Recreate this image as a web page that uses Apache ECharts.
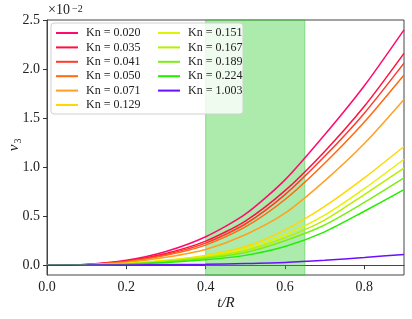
<!DOCTYPE html>
<html><head><meta charset="utf-8">
<script src="https://cdn.jsdelivr.net/npm/echarts@6/dist/echarts.min.js"></script>
<style>html,body{margin:0;padding:0;background:#fff}#c{width:412px;height:319px}</style>
</head><body><div id="c"></div>
<script>
// t/R sample positions
const tR = [0, 0.1, 0.2, 0.3, 0.4, 0.5, 0.6, 0.7, 0.8, 0.9];
// v3 values (in units of 1e-2)
const kn020 = [0, 0.008, 0.050, 0.14, 0.29, 0.52, 0.87, 1.33, 1.83, 2.40];
const kn035 = [0, 0.007, 0.042, 0.12, 0.245, 0.45, 0.76, 1.16, 1.62, 2.16];
const kn041 = [0, 0.006, 0.038, 0.11, 0.225, 0.42, 0.72, 1.11, 1.55, 2.06];
const kn050 = [0, 0.006, 0.035, 0.10, 0.205, 0.39, 0.67, 1.04, 1.46, 1.94];
const kn071 = [0, 0.005, 0.028, 0.08, 0.16, 0.31, 0.53, 0.86, 1.24, 1.69];
const kn129 = [0, 0.003, 0.018, 0.05, 0.10, 0.19, 0.36, 0.60, 0.89, 1.21];
const kn151 = [0, 0.003, 0.016, 0.045, 0.09, 0.17, 0.31, 0.51, 0.78, 1.08];
const kn167 = [0, 0.002, 0.014, 0.04, 0.08, 0.15, 0.28, 0.46, 0.72, 0.99];
const kn189 = [0, 0.002, 0.012, 0.035, 0.07, 0.13, 0.25, 0.41, 0.64, 0.89];
const kn224 = [0, 0.002, 0.010, 0.028, 0.055, 0.10, 0.19, 0.34, 0.55, 0.77];
const kn1003 = [0, 0.001, 0.003, 0.006, 0.010, 0.017, 0.028, 0.05, 0.078, 0.11];
const seriesNames = ['Kn = 0.020','Kn = 0.035','Kn = 0.041','Kn = 0.050','Kn = 0.071','Kn = 0.129',
                     'Kn = 0.151','Kn = 0.167','Kn = 0.189','Kn = 0.224','Kn = 1.003'];
const seriesValues = [kn020, kn035, kn041, kn050, kn071, kn129, kn151, kn167, kn189, kn224, kn1003];
const seriesColors = ['#ff0a6e','#ff1040','#ff3a28','#ff6a10','#ffa020','#ffd800',
                      '#e4f200','#b4f000','#7cec14','#22ee00','#6a10ff'];
const yTicks = [0, 0.5, 1.0, 1.5, 2.0, 2.5];
const xTicks = [0, 0.2, 0.4, 0.6, 0.8];
const bandRange = [0.4, 0.65];

const FONT = 'Liberation Serif';
const chart = echarts.init(document.getElementById('c'), null, {renderer: 'canvas'});

const series = seriesNames.map((name, i) => {
  const s = {
    name: name,
    type: 'line',
    data: tR.map((x, j) => [x, seriesValues[i][j]]),
    smooth: 0.25,
    showSymbol: false,
    symbol: 'none',
    color: seriesColors[i],
    lineStyle: {width: 1.5, color: seriesColors[i]},
    animation: false,
    silent: true
  };
  if (i === 0) {
    s.markArea = {
      silent: true,
      itemStyle: {color: 'rgba(50,205,50,0.4)', borderColor: 'rgba(50,190,50,0.45)', borderWidth: 1},
      data: [[{xAxis: bandRange[0]}, {xAxis: bandRange[1]}]]
    };
  }
  return s;
});

const legendCommon = {
  orient: 'vertical',
  icon: 'rect',
  itemWidth: 22,
  itemHeight: 2,
  itemGap: 0.4,
  padding: 0,
  selectedMode: false,
  z: 10,
  textStyle: {fontFamily: FONT, fontSize: 12, lineHeight: 14, color: '#222', padding: [0, 0, 0, 3]}
};

chart.setOption({
  animation: false,
  backgroundColor: '#fff',
  grid: {left: 47, right: 8, top: 20, bottom: 44, show: true, borderColor: '#444', borderWidth: 1, backgroundColor: 'transparent'},
  xAxis: {
    type: 'value', min: 0, max: 0.9,
    axisLine: {show: true, lineStyle: {color: '#444'}},
    axisTick: {show: true, length: 4, lineStyle: {color: '#333'}, customValues: xTicks},
    axisLabel: {fontFamily: FONT, fontSize: 14, color: '#222', margin: 5, customValues: xTicks,
                formatter: v => v.toFixed(1)},
    splitLine: {show: false}
  },
  yAxis: {
    type: 'value', min: -0.1, max: 2.5,
    axisLine: {show: true, lineStyle: {color: '#444'}},
    axisTick: {show: true, length: 4, lineStyle: {color: '#333'}, customValues: yTicks},
    axisLabel: {fontFamily: FONT, fontSize: 14, color: '#222', margin: 7, customValues: yTicks,
                formatter: v => v.toFixed(1)},
    splitLine: {show: false}
  },
  legend: [
    Object.assign({}, legendCommon, {left: 56, top: 26, data: seriesNames.slice(0, 6)}),
    Object.assign({}, legendCommon, {left: 158, top: 26, data: seriesNames.slice(6)})
  ],
  graphic: [
    {type: 'rect', z: 5, shape: {x: 51, y: 23, width: 192, height: 91, r: 3},
     style: {fill: 'rgba(255,255,255,0.8)', stroke: '#d0d0d0', lineWidth: 1}},
    {type: 'text', z: 10, x: 48, y: 17, style: {text: '×10', fontFamily: FONT, fontSize: 14, fill: '#222', verticalAlign: 'bottom'}},
    {type: 'text', z: 10, x: 72, y: 4, style: {text: '−2', fontFamily: FONT, fontSize: 10, fill: '#222', verticalAlign: 'top'}},
    {type: 'group', x: 14, y: 145, rotation: Math.PI / 2, children: [
      {type: 'text', x: -3, y: 0, style: {text: 'v', fontFamily: FONT, fontStyle: 'italic', fontSize: 15, fill: '#222', align: 'center', verticalAlign: 'middle'}},
      {type: 'text', x: 4, y: 4, style: {text: '3', fontFamily: FONT, fontSize: 10, fill: '#222', align: 'center', verticalAlign: 'middle'}}
    ]},
    {type: 'text', x: 226, y: 303, style: {text: 't/R', fontFamily: FONT, fontStyle: 'italic', fontSize: 15, fill: '#222', align: 'center', verticalAlign: 'middle'}}
  ],
  series: series
});
</script>
</body></html>
